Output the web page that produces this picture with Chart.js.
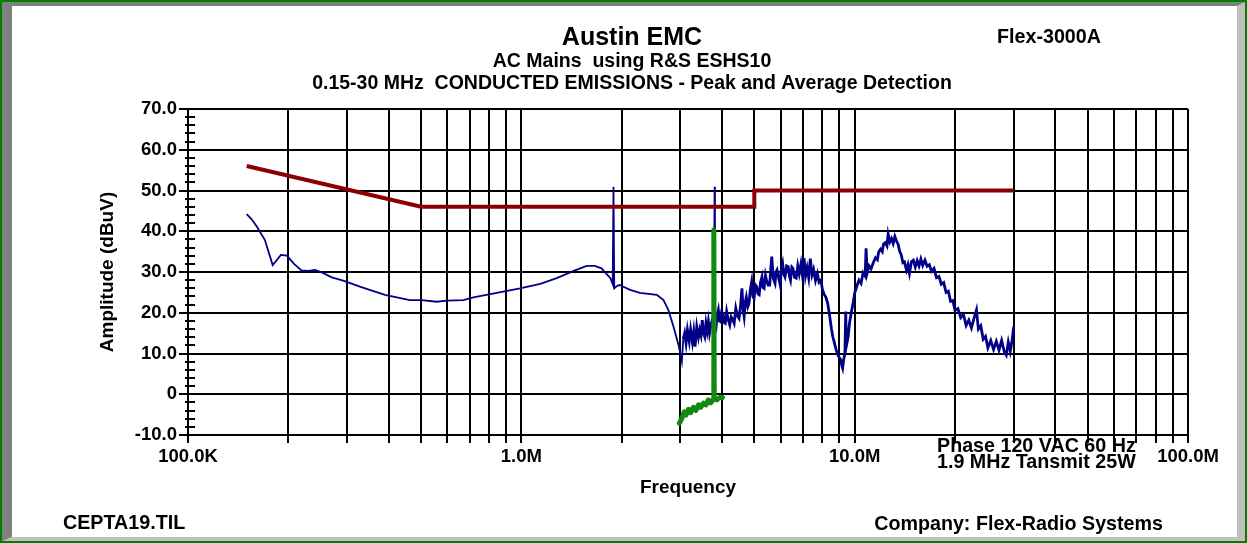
<!DOCTYPE html>
<html>
<head>
<meta charset="utf-8">
<script src="https://cdn.jsdelivr.net/npm/chart.js@4.4.1/dist/chart.umd.min.js"></script>
<style>
  html, body { margin: 0; padding: 0; background: #fff; }
  #frame {
    position: absolute; left: 0; top: 0; width: 1247px; height: 543px;
    box-sizing: border-box; border: 2px solid #008000; background: #fff;
  }
  #bevel {
    position: absolute; left: 0; top: 0; right: 0; bottom: 0;
    border-left: 10px solid #808080; border-top: 4px solid #808080;
    border-right: 8px solid #c0c0c0; border-bottom: 4px solid #c0c0c0;
  }
  #chartBox { position: absolute; left: 0; top: 0; width: 1247px; height: 543px; }
  .note {
    position: absolute; font: bold 19.7px 'Liberation Sans', Arial, sans-serif;
    line-height: 19px; color: #000; white-space: pre;
  }
</style>
</head>
<body>
<div id="frame"><div id="bevel"></div></div>
<div id="chartBox"><canvas id="c" width="1247" height="543"></canvas></div>
<div class="note" style="left:997px; top:27px;">Flex-3000A</div>
<div class="note" style="left:937px; top:436px;">Phase 120 VAC 60 Hz</div>
<div class="note" style="left:937px; top:452px;">1.9 MHz Tansmit 25W</div>
<div class="note" style="left:63px; top:513px;">CEPTA19.TIL</div>
<div class="note" style="right:84px; top:514px;">Company: Flex-Radio Systems</div>
<script>
// ---------- DATA (frequency in MHz, amplitude in dBuV) ----------
const chartTitle = 'Austin EMC';
const chartSubtitle = ['AC Mains  using R&S ESHS10', '0.15-30 MHz  CONDUCTED EMISSIONS - Peak and Average Detection'];
const xAxisTitle = 'Frequency';
const yAxisTitle = 'Amplitude (dBuV)';

// Limit line (dark red)
const limitLine = [[0.15, 56], [0.5, 46], [5.0, 46], [5.0, 50], [30.0, 50]];

// Peak trace (navy)
const peakTrace = [
  [0.150, 44.2], [0.155, 43.0], [0.161, 41.1], [0.170, 37.9], [0.1795, 31.7], [0.190, 34.2],
  [0.198, 34.0], [0.208, 32.0], [0.219, 30.4], [0.230, 30.3], [0.240, 30.5], [0.252, 29.9],
  [0.270, 28.7], [0.292, 27.9], [0.328, 26.4], [0.360, 25.3], [0.390, 24.4], [0.423, 23.8],
  [0.463, 23.1], [0.502, 23.1], [0.557, 22.7], [0.597, 23.0], [0.670, 23.1], [0.718, 23.8],
  [0.844, 24.9], [0.991, 26.0], [1.14, 27.1], [1.277, 28.5], [1.43, 30.2], [1.57, 31.5],
  [1.66, 31.5], [1.74, 30.9], [1.85, 28.5], [1.88, 27.0], [1.89, 50.9], [1.90, 26.0],
  [1.94, 26.6], [1.97, 26.8], [2.12, 25.6], [2.27, 24.9], [2.55, 24.4], [2.67, 23.1],
  [2.76, 20.7], [2.86, 16.6], [2.97, 11.7], [3.03, 8.0],
  [3.06, 13.5], [3.09, 15.0], [3.12, 12.5], [3.15, 15.8], [3.19, 13.0], [3.22, 15.9],
  [3.26, 12.8], [3.29, 15.4], [3.32, 11.7], [3.36, 16.6], [3.40, 14.0], [3.43, 15.8],
  [3.46, 14.5], [3.49, 18.2], [3.52, 15.0], [3.55, 14.1], [3.58, 17.4], [3.61, 15.5],
  [3.64, 17.8], [3.67, 15.0], [3.71, 17.2], [3.75, 18.6], [3.78, 17.0], [3.80, 50.9],
  [3.81, 17.5], [3.84, 16.6], [3.87, 19.5], [3.90, 20.7], [3.93, 18.0], [3.96, 17.8],
  [3.99, 20.2], [4.02, 19.9], [4.06, 17.6], [4.09, 17.4], [4.13, 20.3], [4.17, 18.5],
  [4.22, 17.0], [4.26, 19.0], [4.31, 18.2], [4.35, 17.4], [4.40, 21.1], [4.45, 19.2],
  [4.50, 18.6], [4.55, 22.0], [4.59, 26.0], [4.63, 20.5], [4.66, 19.0], [4.70, 22.8],
  [4.73, 23.9], [4.78, 21.5], [4.82, 22.3], [4.86, 25.5], [4.91, 27.6], [4.95, 24.0],
  [4.99, 23.5], [5.04, 26.8], [5.08, 26.4], [5.13, 24.6], [5.17, 24.4], [5.22, 27.5],
  [5.27, 28.8], [5.31, 26.2], [5.35, 26.0], [5.40, 29.2], [5.44, 28.0], [5.50, 26.8],
  [5.56, 26.8], [5.60, 30.5], [5.64, 33.8], [5.70, 28.4], [5.77, 27.2], [5.81, 30.0],
  [5.85, 30.5], [5.92, 28.5], [5.98, 26.8], [6.03, 30.8], [6.08, 32.1], [6.13, 29.5],
  [6.18, 28.8], [6.25, 31.5], [6.32, 31.3], [6.37, 29.0], [6.42, 28.0], [6.48, 31.2],
  [6.53, 30.9], [6.60, 28.7], [6.68, 28.5], [6.75, 31.5], [6.82, 29.6], [6.90, 32.0],
  [6.97, 29.2], [7.05, 33.4], [7.12, 29.0], [7.20, 31.0], [7.28, 28.6], [7.36, 33.3],
  [7.45, 29.3], [7.53, 30.6], [7.63, 27.9], [7.73, 29.6], [7.82, 27.5], [7.92, 28.0],
  [8.00, 25.8], [8.10, 24.5], [8.20, 23.8], [8.30, 22.3], [8.42, 19.0], [8.52, 16.0],
  [8.60, 14.1], [8.70, 12.5], [8.80, 10.9], [8.92, 9.5], [9.08, 8.4], [9.15, 7.0],
  [9.20, 6.4], [9.27, 8.6], [9.35, 10.0], [9.40, 20.3], [9.45, 12.0], [9.56, 14.1],
  [9.65, 17.5], [9.80, 20.7], [9.90, 22.5], [10.0, 24.8], [10.15, 26.5], [10.3, 28.0],
  [10.45, 27.2], [10.6, 29.8], [10.75, 29.0], [10.82, 35.8], [10.9, 29.7], [11.05, 31.5],
  [11.2, 30.8], [11.4, 32.5], [11.55, 33.5], [11.7, 33.0], [11.8, 34.9], [11.95, 35.6],
  [12.1, 35.0], [12.2, 36.8], [12.35, 37.2], [12.5, 36.4], [12.6, 39.3], [12.75, 37.4],
  [12.9, 38.2], [13.05, 37.0], [13.2, 38.7], [13.35, 37.6], [13.5, 36.8], [13.65, 35.0],
  [13.8, 34.2], [13.95, 32.3], [14.1, 32.5], [14.3, 30.5], [14.45, 31.8], [14.6, 29.7],
  [14.8, 32.5], [15.0, 32.9], [15.2, 31.2], [15.4, 32.8], [15.6, 31.5], [15.8, 33.2],
  [16.0, 31.6], [16.25, 32.9], [16.5, 31.4], [16.75, 31.8], [17.0, 30.2], [17.3, 30.9],
  [17.6, 28.6], [17.9, 28.9], [18.2, 27.0], [18.5, 27.4], [18.8, 25.0], [19.1, 25.3],
  [19.4, 22.8], [19.7, 23.0], [20.0, 20.6], [20.4, 21.0], [20.8, 18.8], [21.2, 19.6],
  [21.6, 16.9], [22.0, 18.2], [22.4, 16.3], [22.8, 18.6], [23.2, 20.7], [23.5, 16.0],
  [23.9, 16.8], [24.3, 13.5], [24.7, 14.2], [25.1, 11.4], [25.6, 13.2], [26.1, 11.0],
  [26.6, 13.0], [27.1, 10.8], [27.6, 13.2], [28.1, 10.5], [28.5, 9.6], [28.9, 12.8],
  [29.3, 10.5], [29.7, 13.5], [30.0, 16.6]
];

// Average trace (green)
const avgTrace = [
  [2.98, -7.1], [3.03, -5.9], [3.08, -4.3], [3.12, -5.1], [3.17, -3.7], [3.22, -4.5],
  [3.28, -3.2], [3.34, -4.0], [3.40, -2.6], [3.45, -3.2], [3.52, -2.2], [3.58, -2.6],
  [3.64, -1.4], [3.70, -2.1], [3.77, -1.2], [3.78, 40.3], [3.79, -1.0], [3.86, -1.4],
  [3.95, -0.7], [4.01, -0.8]
];

// Axis ticks
const xGridMHz = [0.1, 0.2, 0.3, 0.4, 0.5, 0.6, 0.7, 0.8, 0.9,
                  1, 2, 3, 4, 5, 6, 7, 8, 9,
                  10, 20, 30, 40, 50, 60, 70, 80, 90, 100];
const xLabelMHz = [0.1, 1, 10, 100];
const xLabelText = ['100.0K', '1.0M', '10.0M', '100.0M'];
const yTickValues = [-10, 0, 10, 20, 30, 40, 50, 60, 70];
const yTickText = ['-10.0', '0', '10.0', '20.0', '30.0', '40.0', '50.0', '60.0', '70.0'];
const yMinorStep = 2;
const noisyFromMHz = 3.04;

// ---------- CHART ----------
const toXY = arr => arr.map(p => ({ x: p[0] * 1e6, y: p[1] }));
const FONT = "'Liberation Sans', Arial, Helvetica, sans-serif";
Chart.defaults.font.family = FONT;
Chart.defaults.font.weight = 'bold';
Chart.defaults.color = '#000';

const minorTicks = {
  id: 'minorTicks',
  afterDraw(chart) {
    const ys = chart.scales.y, ctx = chart.ctx, x0 = chart.chartArea.left;
    ctx.save();
    ctx.strokeStyle = '#000';
    ctx.lineWidth = 2;
    for (let v = ys.min; v <= ys.max; v += yMinorStep) {
      if (v % 10 === 0) continue;
      const py = Math.round(ys.getPixelForValue(v));
      ctx.beginPath();
      ctx.moveTo(x0 - 3, py);
      ctx.lineTo(x0 + 7, py);
      ctx.stroke();
    }
    ctx.restore();
  }
};

new Chart(document.getElementById('c'), {
  type: 'line',
  data: {
    datasets: [
      { label: 'Average', data: toXY(avgTrace), borderColor: '#118811', borderWidth: 5,
        pointRadius: 0, tension: 0, borderJoinStyle: 'round', borderCapStyle: 'round' },
      { label: 'Limit', data: toXY(limitLine), borderColor: '#8b0000', borderWidth: 4,
        pointRadius: 0, tension: 0 },
      { label: 'Peak', data: toXY(peakTrace), borderColor: '#000088', borderWidth: 1.8,
        pointRadius: 0, tension: 0,
        segment: {
          borderWidth: c => (c.p0.parsed.x >= noisyFromMHz * 1e6 &&
                             Math.abs(c.p1.parsed.y - c.p0.parsed.y) < 15) ? 2.8 : 1.8
        } }
    ]
  },
  options: {
    responsive: false,
    animation: false,
    devicePixelRatio: 1,
    layout: { padding: { top: 0, left: 76, right: 59, bottom: 0 } },
    plugins: {
      legend: { display: false },
      tooltip: { enabled: false },
      title: { display: true, text: chartTitle, color: '#000',
               font: { size: 25, weight: 'bold', lineHeight: 1 },
               padding: { top: 26, bottom: 0 } },
      subtitle: { display: true, text: chartSubtitle, color: '#000',
                  font: { size: 19.5, weight: 'bold', lineHeight: 22 / 19.5 },
                  padding: { top: 0, bottom: 14 } }
    },
    scales: {
      x: {
        type: 'logarithmic', min: 1e5, max: 1e8,
        afterBuildTicks: s => { s.ticks = xGridMHz.map(v => ({ value: v * 1e6 })); },
        afterFit: s => { s.height = 108; },
        ticks: {
          autoSkip: false, maxRotation: 0, minRotation: 0, padding: 3,
          font: { size: 18.5, weight: 'bold' }, color: '#000',
          callback: v => {
            const i = xLabelMHz.findIndex(m => Math.abs(m * 1e6 - v) < 1);
            return i >= 0 ? xLabelText[i] : '';
          }
        },
        grid: { color: '#000', lineWidth: 2, tickLength: 8, tickColor: '#000', tickWidth: 2 },
        border: { color: '#000', width: 2 },
        title: { display: true, text: xAxisTitle, color: '#000',
                 font: { size: 19, weight: 'bold' }, padding: { top: 0, bottom: 44 } }
      },
      y: {
        type: 'linear', min: -10, max: 70,
        afterBuildTicks: s => { s.ticks = yTickValues.map(v => ({ value: v })); },
        afterFit: s => { s.width = 112; },
        ticks: {
          padding: 2, font: { size: 18.5, weight: 'bold' }, color: '#000',
          callback: v => { const i = yTickValues.indexOf(v); return i >= 0 ? yTickText[i] : ''; }
        },
        grid: { color: '#000', lineWidth: 2, tickLength: 9, tickColor: '#000', tickWidth: 2 },
        border: { color: '#000', width: 2 },
        title: { display: true, text: yAxisTitle, color: '#000',
                 font: { size: 19, weight: 'bold' }, padding: { top: 20, bottom: 0 } }
      }
    }
  },
  plugins: [minorTicks]
});
</script>
</body>
</html>
